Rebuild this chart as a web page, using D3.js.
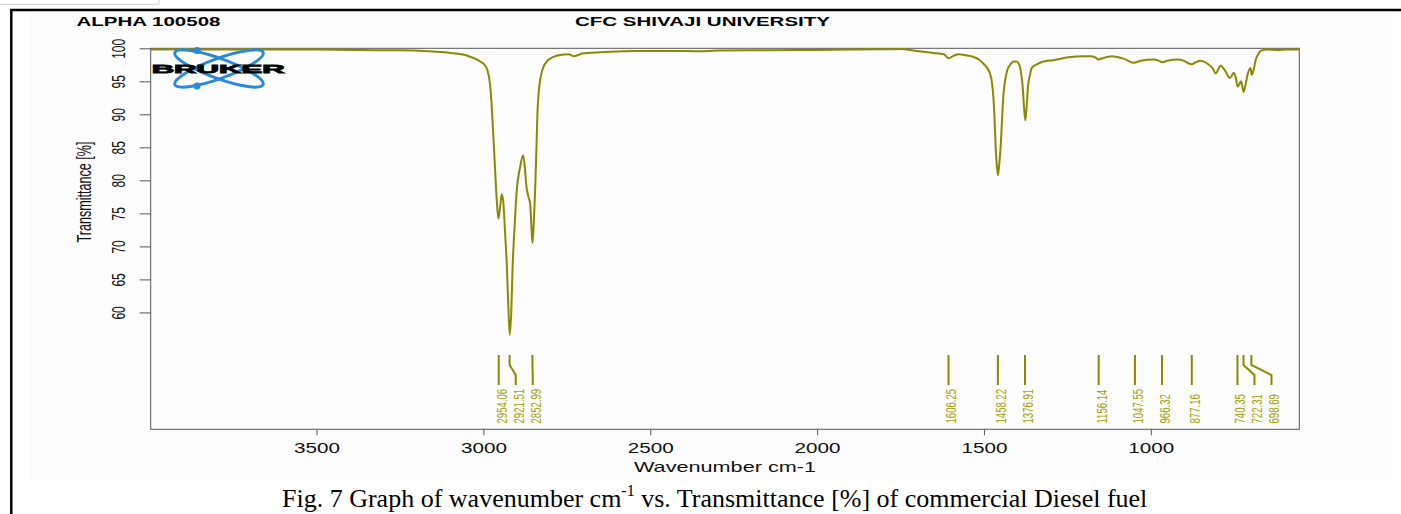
<!DOCTYPE html>
<html>
<head>
<meta charset="utf-8">
<script src="https://cdn.jsdelivr.net/npm/d3@7"></script>
<style>
  body { margin: 0; background: #fff; }
  svg { display: block; }
</style>
</head>
<body>
<div id="chart"></div>
<script>
// spectrum (wavenumber cm-1, transmittance %)
const wavenumbers = [3997, 3900, 3800, 3700, 3600, 3500, 3400, 3300, 3250, 3150, 3100, 3050, 3010, 2995, 2988, 2980,
  2975, 2970, 2965, 2960, 2955, 2950, 2945, 2940, 2935, 2930, 2925, 2921, 2917, 2912, 2906, 2900, 2890, 2881, 2875,
  2872, 2865, 2860, 2856, 2853, 2849, 2845, 2841, 2838, 2834, 2830, 2820, 2810, 2790, 2770, 2745, 2730, 2715, 2705,
  2650, 2600, 2551, 2450, 2351, 2300, 2150, 2000, 1900, 1800, 1751, 1700, 1651, 1620, 1606, 1590, 1577, 1550, 1532,
  1515, 1502, 1490, 1482, 1476, 1472, 1468, 1465, 1461, 1458, 1455, 1450, 1446, 1442, 1436, 1430, 1420, 1412, 1403,
  1394, 1388, 1384, 1379, 1376, 1373, 1368, 1362, 1357, 1340, 1322, 1292, 1252, 1200, 1182, 1165, 1157, 1145, 1117,
  1080, 1052, 1030, 992, 975, 966, 950, 921, 900, 886, 877, 865, 851, 831, 815, 806, 798, 791, 783, 776, 763, 751,
  745, 740, 729, 722, 716, 709, 701, 698, 693, 686, 678, 671, 651, 620, 590, 555];
const transmittance = [99.8, 99.85, 99.8, 99.85, 99.8, 99.8, 99.75, 99.7, 99.7, 99.5, 99.3, 98.9, 98.0, 97.4, 96.7, 94.5,
  91.2, 86.5, 81.6, 77.0, 74.2, 76.0, 77.9, 76.5, 72.0, 67.4, 60.5, 56.6, 59.5, 67.5, 73.5, 78.5, 82.0, 83.8, 81.5,
  79.5, 77.5, 76.5, 73.0, 70.5, 73.5, 78.5, 85.0, 90.2, 93.5, 95.2, 97.2, 98.0, 98.7, 99.0, 99.1, 98.8, 99.0, 99.2,
  99.4, 99.5, 99.6, 99.6, 99.55, 99.65, 99.7, 99.75, 99.8, 99.85, 99.9, 99.6, 99.3, 99.1, 98.5, 98.9, 99.1, 98.9, 98.7,
  98.3, 97.7, 97.0, 96.2, 94.8, 92.7, 89.0, 85.1, 82.0, 80.8, 82.0, 85.1, 89.0, 92.7, 95.3, 96.7, 97.6, 98.0, 98.0,
  97.5, 96.0, 94.2, 90.5, 89.1, 90.5, 94.2, 96.0, 97.0, 97.6, 98.0, 98.2, 98.6, 98.8, 98.8, 98.6, 98.3, 98.5, 98.8,
  98.4, 97.8, 98.1, 98.3, 98.1, 97.9, 98.1, 98.3, 98.1, 97.7, 97.6, 97.9, 98.1, 97.7, 97.0, 96.2, 96.8, 97.4, 97.0, 96.5, 95.5, 96.3,
  95.5, 94.2, 95.0, 93.4, 94.5, 96.2, 97.0, 96.0, 96.5, 98.2, 99.1, 99.6, 99.8, 99.75, 99.8, 99.8];

const peakLabels = ["2954.06", "2921.51", "2852.99", "1606.25", "1458.22", "1376.91", "1156.14",
  "1047.55", "966.32", "877.16", "740.35", "722.31", "698.69"];
const xTicks = [3500, 3000, 2500, 2000, 1500, 1000];
const yTicks = [60, 65, 70, 75, 80, 85, 90, 95, 100];

const width = 1401, height = 514;
const plot = { left: 150.7, right: 1299.3, top: 48.3, bottom: 429.3 };
const stretch = 1.6; // the figure was pasted stretched sideways
const sans = "'Liberation Sans', Arial, sans-serif";
const olive = "#8a8a00";

const svg = d3.select("#chart").append("svg")
    .attr("width", width)
    .attr("height", height);

// pasted image background + page frame
svg.append("rect").attr("x", 30).attr("y", 11).attr("width", 1363).attr("height", 469).attr("fill", "#fcfcfc");
svg.append("path").attr("d", "M0,4.3H159V0").attr("fill", "none").attr("stroke", "#cfcfcf");
svg.append("path").attr("d", `M11.3,${height}V10H${width}`).attr("fill", "none").attr("stroke", "#000").attr("stroke-width", 2.5);

const x = d3.scaleLinear().domain([3997, 555]).range([plot.left, plot.right]);
const y = d3.scaleLinear().domain([42.3, 100]).range([plot.bottom, plot.top]);

// axes
const xAxis = svg.append("g")
    .attr("transform", `translate(0,${plot.bottom})`)
    .call(d3.axisBottom(x).tickValues(xTicks).tickSize(6).tickFormat(d3.format("d")));
xAxis.select(".domain").remove();
xAxis.selectAll("line").attr("stroke", "#555");
xAxis.selectAll("text")
    .attr("y", 24).attr("dy", null)
    .attr("font-family", sans).attr("font-size", 14).attr("fill", "#111")
    .attr("textLength", 46).attr("lengthAdjust", "spacingAndGlyphs");

const yAxis = svg.append("g")
    .attr("transform", `translate(${plot.left},0)`)
    .call(d3.axisLeft(y).tickValues(yTicks).tickSize(11));
yAxis.select(".domain").remove();
yAxis.selectAll("line").attr("stroke", "#555");
yAxis.selectAll("text")
    .attr("x", null).attr("dy", null)
    .attr("text-anchor", "middle")
    .attr("font-family", sans).attr("font-size", 12).attr("fill", "#111")
    .attr("transform", `translate(-25.5,0) scale(${stretch},1) rotate(-90)`);

svg.append("rect")
    .attr("x", plot.left).attr("y", plot.top)
    .attr("width", plot.right - plot.left).attr("height", plot.bottom - plot.top)
    .attr("fill", "none").attr("stroke", "#555").attr("stroke-width", 1);

// spectrum
const spectrum = wavenumbers.map((w, i) => ({ w: w, t: transmittance[i] }));
const line = d3.line()
    .x(d => x(d.w))
    .y(d => y(d.t))
    .curve(d3.curveMonotoneX);

svg.append("path")
    .datum(spectrum)
    .attr("d", line)
    .attr("fill", "none")
    .attr("stroke", olive)
    .attr("stroke-width", 2)
    .attr("stroke-linejoin", "round");

// peak picks, spread apart so labels don't collide
const peaks = peakLabels.map(s => ({ label: s, px: x(+s) })).sort((a, b) => a.px - b.px);
let prev = -Infinity;
peaks.forEach(p => { p.lx = Math.max(p.px, prev + 17); prev = p.lx; });

const gPeaks = svg.append("g").classed("peaks", true);
gPeaks.selectAll("path")
    .data(peaks)
    .enter()
    .append("path")
    .attr("d", p => `M${p.px},355V365L${p.lx},375V385`)
    .attr("fill", "none")
    .attr("stroke", olive)
    .attr("stroke-width", 2);
gPeaks.selectAll("text")
    .data(peaks)
    .enter()
    .append("text")
    .attr("transform", p => `translate(${p.lx + 8},423.5) scale(${stretch},1) rotate(-90)`)
    .attr("font-family", sans).attr("font-size", 9.6)
    .attr("fill", "#a3a300")
    .text(p => p.label);

// titles
svg.append("text").attr("x", 76.5).attr("y", 25.5)
    .attr("font-family", sans).attr("font-weight", "bold").attr("font-size", 12.5)
    .attr("textLength", 144).attr("lengthAdjust", "spacingAndGlyphs")
    .text("ALPHA 100508");
svg.append("text").attr("x", 575).attr("y", 25.5)
    .attr("font-family", sans).attr("font-weight", "bold").attr("font-size", 12.5)
    .attr("textLength", 255).attr("lengthAdjust", "spacingAndGlyphs")
    .text("CFC SHIVAJI UNIVERSITY");

svg.append("text")
    .attr("transform", `translate(91,192) scale(${stretch},1) rotate(-90)`)
    .attr("text-anchor", "middle")
    .attr("font-family", sans).attr("font-size", 12.6).attr("fill", "#111")
    .text("Transmittance [%]");

svg.append("text")
    .attr("x", (plot.left + plot.right) / 2).attr("y", 471.7)
    .attr("text-anchor", "middle")
    .attr("font-family", sans).attr("font-size", 15).attr("fill", "#111")
    .attr("textLength", 182).attr("lengthAdjust", "spacingAndGlyphs")
    .text("Wavenumber cm-1");

// bruker logo
const logo = svg.append("g").attr("transform", "translate(219,68.5)");
[-20, 20].forEach(a => {
    logo.append("ellipse")
        .attr("rx", 47).attr("ry", 10)
        .attr("transform", `rotate(${a})`)
        .attr("fill", "none").attr("stroke", "#2a8ad8").attr("stroke-width", 3);
});
logo.append("circle").attr("cx", -22).attr("cy", -18).attr("r", 3.5).attr("fill", "#2a8ad8");
logo.append("circle").attr("cx", -22).attr("cy", 17.5).attr("r", 3.5).attr("fill", "#2a8ad8");
svg.append("text").attr("x", 151.7).attr("y", 73.3)
    .attr("font-family", sans).attr("font-weight", 900).attr("font-size", 11.5)
    .attr("textLength", 133).attr("lengthAdjust", "spacingAndGlyphs")
    .attr("stroke", "#000").attr("stroke-width", 0.8)
    .text("BRUKER");

// figure caption
const caption = svg.append("text").attr("x", 282).attr("y", 507)
    .attr("font-family", "'Liberation Serif', 'Times New Roman', serif").attr("font-size", 26).attr("fill", "#000");
caption.append("tspan").text("Fig. 7 Graph of wavenumber cm");
caption.append("tspan").attr("font-size", 16).attr("dy", -11).text("-1");
caption.append("tspan").attr("dy", 11).text(" vs. Transmittance [%] of commercial Diesel fuel");
</script>
</body>
</html>
